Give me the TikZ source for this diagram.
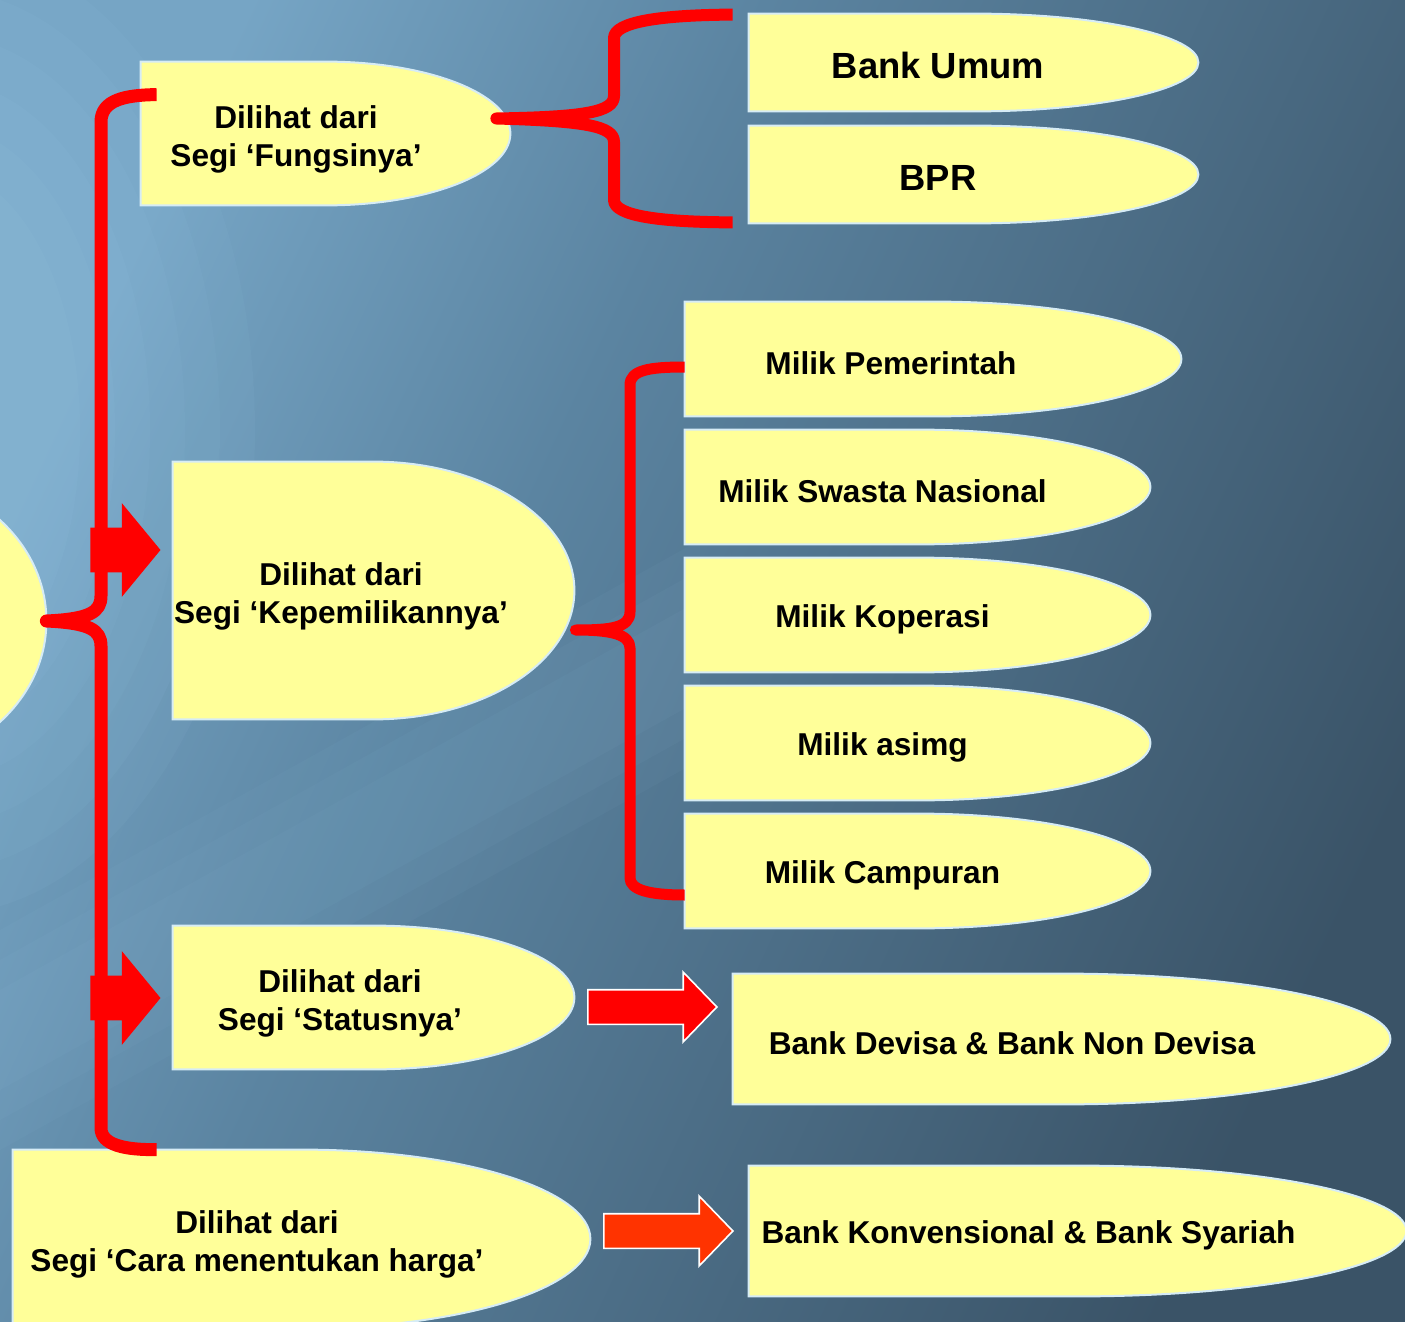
\documentclass[tikz,border=0pt]{standalone}
\usepackage{fontspec}
\setmainfont{Liberation Sans}
\usetikzlibrary{positioning,fit,calc,shapes.arrows}
\definecolor{slidelight}{HTML}{76A5C5}
\definecolor{slidemid}{HTML}{5B84A1}
\definecolor{slidedark}{HTML}{3A5367}
\definecolor{glow}{HTML}{A8D8F4}
\definecolor{bulletyellow}{HTML}{FFFF99}
\definecolor{bulletedge}{HTML}{D6ECF6}
\definecolor{orangered}{HTML}{FF3300}
\pgfdeclarehorizontalshading{slidebg}{100bp}{color(0bp)=(slidelight); color(25bp)=(slidelight);
    color(42bp)=(slidemid); color(75bp)=(slidedark); color(100bp)=(slidedark)}
\pgfdeclarelayer{background}
\pgfsetlayers{background,main}
\tikzset{
    bullet/.style={rectangle, inner sep=0pt, draw=none},
    bulletfill/.style={fill=bulletyellow, draw=bulletedge, line width=1pt},
    txt/.style={font=\bfseries\fontsize{15.8}{19}\selectfont, align=center, xshift=#1, yshift=-2pt},
    txt/.default=-17.5pt,
    twoline/.style={yshift=-0.75pt},
    bigtxt/.style={font=\bfseries\fontsize{18.2}{22}\selectfont, xshift=-17.75pt, yshift=-1.5pt},
    curly/.style={draw=red, line width=#1, line join=round},
    curly/.default=6.5pt,
    fatarrow/.style={single arrow, fill=red, inner sep=0pt, anchor=tip,
        minimum height=35pt, text height=11pt, text depth=11pt,
        single arrow head extend=12.25pt, single arrow tip angle=101},
    flatarrow/.style={single arrow, fill=#1, draw=white, line width=0.8pt,
        inner sep=0pt, anchor=tip, minimum height=64.5pt,
        text height=8.25pt, text depth=8.25pt,
        single arrow head extend=8.75pt, single arrow tip angle=92}
}

\begin{document}
\begin{tikzpicture}[x=0.5pt, y=-0.5pt]
\useasboundingbox (0,0) rectangle (1405,1322);

% left column
\node[bullet, fit={(-290,475) (46,767)}] (root) {};
\node[bullet, fit={(141,62) (510,205)},
    label={[txt=-14.75pt, twoline]center:Dilihat dari\\Segi ‘Fungsinya’}] (fungsi) {};
\node[bullet, fit={(173,462) (574,719)},
    label={[txt=-16.25pt, twoline]center:Dilihat dari\\Segi ‘Kepemilikannya’}] (milik) {};
\node[bullet, fit={(173,926) (574,1069)},
    label={[txt=-16.75pt, twoline]center:Dilihat dari\\Segi ‘Statusnya’}] (status) {};
\node[bullet, fit={(13,1150) (590,1328)},
    label={[txt=-22.25pt, twoline]center:Dilihat dari\\Segi ‘Cara menentukan harga’}] (harga) {};

% right column
\node[bullet, fit={(749,14) (1198,111)}, label={[bigtxt]center:Bank Umum}] (umum) {};
\node[bullet, fit={(749,126) (1198,223)}, label={[bigtxt]center:BPR}] (bpr) {};
\node[bullet, fit={(685,302) (1181,416)}, label={[txt=-21pt]center:Milik Pemerintah}] (pemerintah) {};
\node[bullet, fit={(685,430) (1150,544)}, label={[txt]center:Milik Swasta Nasional}] (swasta) {};
\node[bullet, fit={(685,558) (1150,672)}, label={[txt]center:Milik Koperasi}] (koperasi) {};
\node[bullet, fit={(685,686) (1150,800)}, label={[txt]center:Milik asimg}] (asing) {};
\node[bullet, fit={(685,814) (1150,928)}, label={[txt]center:Milik Campuran}] (campuran) {};
\node[bullet, fit={(733,974) (1390,1104)},
    label={[txt=-24.75pt]center:Bank Devisa \& Bank Non Devisa}] (devisa) {};
\node[bullet, fit={(749,1166) (1406,1296)},
    label={[txt=-24.5pt]center:Bank Konvensional \& Bank Syariah}] (syariah) {};

% slide background and yellow shapes
\begin{pgfonlayer}{background}
\shade[shading=slidebg, shading angle=-25] (0,0) rectangle (1405,1322);
\foreach \r in {0,...,5}
    \fill[glow, opacity=0.05] (-60,430) ellipse [x radius=140+35*\r, y radius=260+45*\r];
\foreach \r in {0,1,2}
    \fill[glow, opacity=0.04] (0,990-30*\r) -- (0,1090+30*\r) -- (700,700+30*\r) -- (700,600-30*\r) -- cycle;
\foreach \n in {root,fungsi,milik,status,harga,umum,bpr,pemerintah,swasta,koperasi,asing,campuran,devisa,syariah}
    \filldraw[bulletfill] (\n.south west) -- (\n.north west) -- (\n.north)
        .. controls ($(\n.north)!0.5523!(\n.north east)$) and ($(\n.east)!0.5523!(\n.north east)$) .. (\n.east)
        .. controls ($(\n.east)!0.5523!(\n.south east)$) and ($(\n.south)!0.5523!(\n.south east)$) .. (\n.south)
        -- cycle;
\end{pgfonlayer}

% brace ends
\coordinate (ltop) at ($(fungsi.north west)+(16,33)$);
\coordinate (lbot) at ($(harga.north west)+(144,0)$);
\coordinate (fcusp) at ($(fungsi.east)+(-14,-15)$);
\coordinate (utop) at ($(umum.north west)+(-16,1)$);
\coordinate (ubot) at ($(bpr.south west)+(-16,-1)$);
\coordinate (mcusp) at ($(milik.east)+(1,39.5)$);
\coordinate (mtop) at ($(pemerintah.west)+(0,8)$);
\coordinate (mbot) at ($(campuran.west)+(0,24)$);

% braces
\draw[curly] (ltop) .. controls (125,95) and (101,100) .. (101,122) -- (101,596)
    .. controls (101,612) and (90,619) .. (root.east)
    .. controls (90,623) and (101,630) .. (101,646) -- (101,1128)
    .. controls (101,1145) and (125,1150) .. (lbot);
\draw[curly=6pt] (utop) .. controls (660,15) and (614,22) .. (614,38) -- (614,96)
    .. controls (614,112) and (585,117) .. (fcusp)
    .. controls (585,121) and (614,126) .. (614,142) -- (614,200)
    .. controls (614,216) and (660,222) .. (ubot);
\draw[curly=5.5pt] (mtop) .. controls (650,367) and (630,370) .. (630,385) -- (630,612)
    .. controls (630,628) and (610,630) .. (mcusp)
    .. controls (610,630) and (630,634) .. (630,648) -- (630,878)
    .. controls (630,890) and (650,895) .. (mbot);

% block arrows
\node[fatarrow] (arrmilik) at (161,550) {};
\node[fatarrow] (arrstatus) at (161,998) {};
\node[flatarrow=red] (arrdevisa) at (718,1007) {};
\node[flatarrow=orangered] (arrsyariah) at (734,1231) {};
\end{tikzpicture}
\end{document}
